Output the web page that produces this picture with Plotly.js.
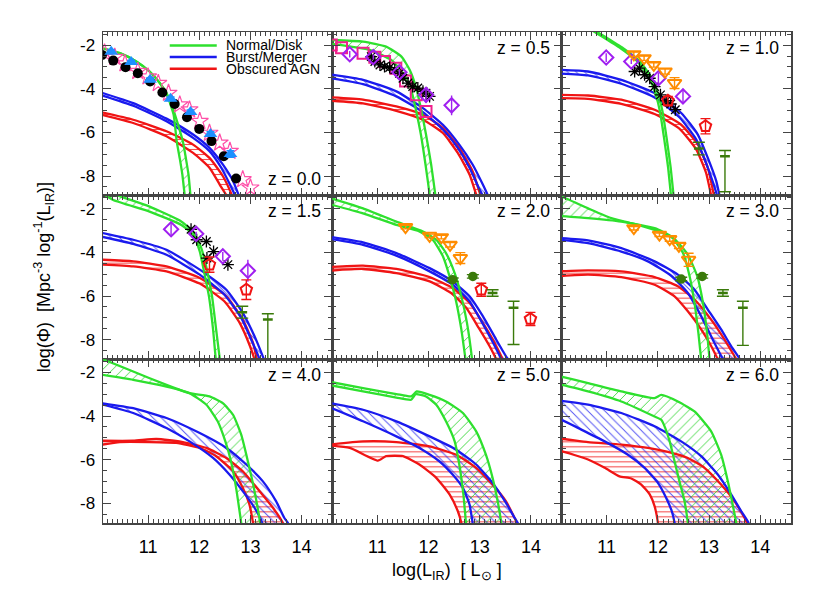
<!DOCTYPE html>
<html><head><meta charset="utf-8">
<script src="https://cdn.plot.ly/plotly-3.0.1.min.js"></script>
<style>html,body{margin:0;padding:0;background:#fff}#chart{width:822px;height:590px}</style>
</head><body><div id="chart"></div>
<script>
// ---------------- data ----------------
const redshifts = ['0.0','0.5','1.0','1.5','2.0','3.0','4.0','5.0','6.0'];
const xTicks = [11, 12, 13, 14];
const yTicks = [-2, -4, -6, -8];
const legendNames = ['Normal/Disk', 'Burst/Merger', 'Obscured AGN'];

// Normal/Disk band edges (per panel)
const diskHiX = [
 [10.05,10.45,10.77,11.03,11.23,11.36,11.48,11.58,11.68,11.74,11.79,11.84],
 [10.05,10.72,11.17,11.47,11.63,11.75,11.85,11.95,12.05,12.14,12.17],
 [10.40,10.80,11.32,11.65,11.88,12.01,12.09,12.17,12.25,12.31,12.33],
 [10.05,10.32,11.03,11.62,11.88,12.04,12.15,12.25,12.33,12.41,12.44],
 [10.05,10.72,11.37,11.89,12.15,12.34,12.51,12.64,12.75,12.85,12.87],
 [9.99,10.115,10.635,11.09,11.48,11.935,12.325,12.585,12.77,12.88,12.96,13.01,13.04],
 [10.05,10.71,11.36,11.81,12.20,12.46,12.66,12.82,12.95,13.08,13.19,13.22],
 [10.05,10.72,11.37,11.66,11.77,12.02,12.34,12.67,12.93,13.12,13.25,13.35,13.42,13.45],
 [9.99,10.115,10.635,11.285,11.935,12.065,12.39,12.715,13.04,13.235,13.365,13.46,13.53,13.56]];
const diskHiY = [
 [-2.11,-2.37,-2.75,-3.21,-3.74,-4.20,-4.85,-5.60,-6.41,-7.20,-7.93,-9.2],
 [-1.76,-1.84,-2.07,-2.53,-3.13,-3.90,-4.89,-6.10,-7.47,-9.0,-9.5],
 [-0.78,-1.38,-2.145,-2.75,-3.515,-4.28,-5.04,-6.255,-7.625,-9.0,-9.4],
 [-1.0,-1.32,-1.90,-2.54,-3.04,-3.80,-4.79,-6.01,-7.53,-9.05,-9.5],
 [-1.48,-1.98,-2.59,-3.04,-3.42,-4.03,-4.95,-6.01,-7.23,-8.90,-9.4],
 [-1.35,-1.44,-1.98,-2.43,-2.66,-2.97,-3.39,-4.11,-5.10,-6.31,-7.68,-8.90,-9.4],
 [-1.33,-1.96,-2.57,-2.95,-3.10,-3.41,-3.94,-4.85,-6.07,-7.44,-8.89,-9.4],
 [-2.42,-2.72,-2.99,-3.10,-2.87,-3.03,-3.33,-3.86,-4.70,-5.77,-6.83,-7.90,-8.89,-9.4],
 [-2.12,-2.19,-2.49,-2.87,-3.18,-3.03,-3.33,-3.79,-4.70,-5.77,-6.98,-8.05,-8.89,-9.4]];
const diskLoX = [
 [10.05,10.45,10.77,11.03,11.23,11.38,11.50,11.56,11.62,11.67,11.73],
 [10.05,10.85,11.27,11.50,11.66,11.76,11.85,11.94,12.03,12.06],
 [10.35,10.75,11.27,11.60,11.83,11.96,12.04,12.12,12.20,12.26,12.28],
 [10.05,10.32,11.03,11.65,11.88,12.01,12.10,12.19,12.27,12.33,12.36],
 [10.05,10.72,11.37,11.82,12.08,12.28,12.41,12.53,12.64,12.73,12.75],
 [9.99,10.635,11.285,11.935,12.26,12.49,12.62,12.715,12.79,12.845,12.87],
 [10.05,10.71,11.36,11.81,12.14,12.36,12.51,12.62,12.72,12.82,12.85],
 [10.05,10.72,11.37,11.66,11.75,11.95,12.15,12.34,12.51,12.60,12.68,12.73,12.75],
 [9.99,10.115,10.635,11.285,11.935,12.065,12.13,12.23,12.325,12.42,12.52,12.585,12.61]];
const diskLoY = [
 [-2.11,-2.37,-2.75,-3.21,-3.74,-4.35,-5.19,-6.41,-7.20,-7.93,-9.2],
 [-1.92,-2.22,-2.68,-3.29,-4.05,-5.04,-6.10,-7.47,-9.0,-9.5],
 [-0.78,-1.38,-2.145,-2.75,-3.515,-4.28,-5.04,-6.255,-7.625,-9.0,-9.4],
 [-1.2,-1.60,-2.13,-2.74,-3.19,-3.96,-4.95,-6.01,-7.53,-9.05,-9.5],
 [-1.78,-2.21,-2.74,-3.04,-3.42,-4.18,-5.10,-6.16,-7.53,-9.05,-9.4],
 [-2.32,-2.43,-2.59,-2.89,-3.27,-4.03,-5.10,-6.31,-7.68,-8.90,-9.4],
 [-2.09,-2.34,-2.65,-2.95,-3.48,-4.24,-5.16,-6.07,-7.29,-8.89,-9.4],
 [-2.57,-2.87,-3.15,-3.25,-3.0,-3.10,-3.48,-4.24,-5.16,-6.22,-7.59,-8.89,-9.4],
 [-2.55,-2.57,-2.87,-3.33,-4.02,-4.17,-4.47,-5.16,-6.07,-6.98,-7.90,-8.89,-9.4]];

// Burst/Merger band edges
const burstHiX = [
 [10.05,10.71,11.36,11.88,12.20,12.46,12.66,12.79,12.85],
 [10.05,10.72,11.37,11.89,12.28,12.60,12.86,13.06,13.18,13.25],
 [9.99,10.635,11.285,11.935,12.455,12.78,12.975,13.14,13.215,13.26],
 [10.05,10.71,11.36,12.01,12.53,12.85,13.08,13.24,13.29,13.33],
 [10.05,10.72,11.37,12.02,12.47,12.80,13.06,13.32,13.51,13.60,13.65],
 [9.99,10.635,11.285,11.935,12.39,12.715,12.975,13.235,13.43,13.625,13.70],
 [10.05,10.71,11.36,12.01,12.53,12.92,13.24,13.50,13.66,13.73,13.78],
 [10.05,10.72,11.37,12.02,12.54,12.93,13.25,13.51,13.68,13.74,13.79],
 [9.99,10.115,10.635,11.285,11.935,12.455,12.845,13.17,13.43,13.625,13.77,13.80]];
const burstHiY = [
 [-4.15,-4.66,-5.37,-6.10,-6.71,-7.47,-8.23,-9.0,-9.4],
 [-3.33,-3.59,-4.12,-4.89,-5.65,-6.56,-7.47,-8.39,-9.0,-9.4],
 [-3.13,-3.21,-3.59,-4.20,-5.11,-6.10,-7.17,-8.23,-9.0,-9.4],
 [-3.08,-3.42,-3.88,-4.79,-5.71,-6.77,-7.84,-8.75,-9.05,-9.4],
 [-3.28,-3.54,-4.03,-4.72,-5.33,-6.01,-6.92,-7.99,-8.75,-9.05,-9.4],
 [-3.33,-3.45,-3.80,-4.41,-5.02,-5.71,-6.62,-7.53,-8.29,-8.98,-9.4],
 [-3.39,-3.64,-4.09,-4.78,-5.46,-6.22,-6.98,-7.90,-8.66,-8.89,-9.4],
 [-3.39,-3.71,-4.24,-4.93,-5.54,-6.22,-7.06,-7.97,-8.66,-8.89,-9.4],
 [-3.28,-3.30,-3.48,-3.86,-4.47,-5.16,-5.84,-6.68,-7.59,-8.35,-8.89,-9.4]];
const burstLoX = [
 [10.05,10.71,11.36,11.88,12.20,12.43,12.60,12.72,12.78],
 [10.05,10.72,11.37,11.89,12.28,12.57,12.80,12.98,13.08,13.15],
 [9.99,10.635,11.285,11.935,12.42,12.75,12.94,13.09,13.17,13.21],
 [10.05,10.71,11.36,12.01,12.49,12.82,13.03,13.18,13.22,13.26],
 [10.05,10.72,11.37,12.02,12.47,12.80,13.03,13.26,13.42,13.46,13.50],
 [9.99,10.635,11.285,11.805,12.26,12.585,12.845,13.07,13.235,13.30,13.35],
 [10.05,10.71,11.36,11.81,12.27,12.59,12.85,13.08,13.23,13.27],
 [10.05,10.72,11.37,11.82,12.21,12.47,12.67,12.80,12.86,12.89],
 [9.99,10.115,10.505,10.96,11.415,11.74,12.0,12.16,12.27,12.325,12.35]];
const burstLoY = [
 [-4.27,-4.78,-5.49,-6.25,-6.86,-7.62,-8.39,-9.0,-9.4],
 [-3.50,-3.79,-4.35,-5.07,-5.87,-6.71,-7.62,-8.54,-9.0,-9.4],
 [-3.29,-3.39,-3.77,-4.40,-5.31,-6.33,-7.40,-8.39,-9.0,-9.4],
 [-3.26,-3.61,-4.11,-5.02,-5.93,-7.0,-8.07,-8.90,-9.21,-9.5],
 [-3.37,-3.65,-4.15,-4.87,-5.48,-6.24,-7.15,-8.14,-8.90,-9.13,-9.4],
 [-3.40,-3.58,-3.96,-4.41,-5.07,-5.86,-6.92,-7.99,-8.75,-9.05,-9.4],
 [-3.43,-3.86,-4.55,-5.16,-5.92,-6.68,-7.44,-8.20,-8.89,-9.4],
 [-3.58,-4.24,-4.93,-5.46,-6.07,-6.68,-7.29,-8.05,-8.89,-9.4],
 [-4.14,-4.17,-4.62,-5.16,-5.77,-6.37,-7.06,-7.74,-8.35,-8.89,-9.4]];

// Obscured AGN band edges
const agnHiX = [
 [10.05,10.71,11.36,11.88,12.20,12.46,12.66,12.72],
 [10.05,10.72,11.37,11.89,12.28,12.60,12.86,13.03,13.10],
 [9.99,10.635,11.285,11.935,12.455,12.78,12.975,13.105,13.14],
 [10.05,10.71,11.36,12.01,12.53,12.85,13.05,13.14,13.18],
 [10.05,10.72,11.37,12.02,12.47,12.80,13.06,13.29,13.45,13.51,13.55],
 [9.99,10.635,11.285,11.935,12.39,12.715,13.04,13.30,13.495,13.575,13.62],
 [10.05,10.71,11.16,11.68,12.14,12.53,12.85,13.18,13.44,13.63,13.68],
 [10.05,10.72,11.37,12.02,12.54,12.93,13.25,13.51,13.71,13.74,13.78],
 [9.99,10.115,10.635,11.285,11.805,12.195,12.585,12.91,13.235,13.495,13.655,13.74,13.77]];
const agnHiY = [
 [-5.06,-5.42,-5.95,-6.56,-7.17,-8.0,-9.0,-9.4],
 [-4.39,-4.50,-4.81,-5.19,-5.80,-6.71,-7.78,-9.0,-9.5],
 [-4.28,-4.31,-4.50,-4.96,-5.65,-6.56,-7.62,-9.0,-9.4],
 [-4.33,-4.41,-4.64,-5.17,-6.01,-7.08,-8.14,-9.05,-9.4],
 [-4.67,-4.61,-4.76,-5.13,-5.63,-6.31,-7.23,-8.14,-8.90,-9.13,-9.4],
 [-4.87,-4.82,-4.87,-5.13,-5.55,-6.16,-7.08,-7.99,-8.75,-9.05,-9.4],
 [-5.13,-5.13,-5.05,-5.19,-5.46,-5.92,-6.53,-7.44,-8.20,-8.89,-9.4],
 [-5.31,-5.16,-5.19,-5.39,-5.77,-6.37,-7.14,-7.90,-8.81,-8.96,-9.4],
 [-5.03,-5.04,-5.19,-5.31,-5.46,-5.64,-5.92,-6.37,-7.14,-7.90,-8.51,-8.89,-9.4]];
const agnLoX = [
 [10.05,10.71,11.36,11.88,12.20,12.40,12.56,12.62],
 [10.05,10.72,11.37,11.89,12.28,12.57,12.80,12.95,13.0],
 [9.99,10.635,11.285,11.935,12.42,12.75,12.94,13.05,13.09],
 [10.05,10.71,11.36,12.01,12.49,12.79,12.99,13.10,13.14],
 [10.05,10.72,11.37,12.02,12.44,12.735,12.98,13.19,13.35,13.40],
 [9.99,10.635,11.285,11.935,12.325,12.585,12.845,13.04,13.17,13.20,13.24],
 [10.05,10.45,11.03,11.55,12.01,12.33,12.66,12.85,12.98,13.05,13.08],
 [10.05,10.46,11.01,11.17,11.50,11.82,12.15,12.41,12.57,12.64,12.67],
 [9.99,10.115,10.635,10.96,11.25,11.48,11.675,11.84,11.935,12.0,12.02]];
const agnLoY = [
 [-5.17,-5.57,-6.18,-6.94,-7.62,-8.39,-9.0,-9.4],
 [-4.54,-4.67,-5.01,-5.42,-6.03,-6.94,-7.93,-9.0,-9.4],
 [-4.43,-4.46,-4.69,-5.16,-5.83,-6.79,-7.85,-9.0,-9.4],
 [-4.55,-4.64,-4.87,-5.43,-6.24,-7.23,-8.29,-9.05,-9.4],
 [-4.84,-4.76,-4.95,-5.33,-5.86,-6.54,-7.46,-8.29,-9.05,-9.4],
 [-5.10,-5.02,-5.13,-5.48,-6.01,-6.70,-7.53,-8.29,-8.90,-9.05,-9.4],
 [-5.33,-5.19,-5.19,-5.23,-5.46,-5.84,-6.53,-7.29,-8.05,-8.89,-9.4],
 [-5.34,-5.46,-6.04,-5.84,-5.84,-6.22,-6.83,-7.59,-8.35,-8.89,-9.4],
 [-5.58,-5.61,-5.99,-6.37,-6.76,-6.86,-7.14,-7.59,-8.13,-8.89,-9.4]];

// Observations, z = 0.0 panel
const circleX = [10.10,10.32,10.56,10.80,11.04,11.28,11.52,11.76,12.00,12.24,12.48,12.72];
const circleY = [-2.45,-2.71,-3.01,-3.29,-3.67,-4.17,-4.70,-5.31,-5.84,-6.40,-7.09,-8.11];
const triUpX = [10.28,10.67,11.04,11.44,11.83,12.22,12.61];
const triUpY = [-2.30,-2.78,-3.59,-4.46,-5.07,-6.07,-6.99];
const triUpErr = [0.08,0.08,0.08,0.08,0.1,0.1,0.15];
const starX = [10.15,10.35,10.55,10.80,11.00,11.20,11.40,11.62,11.81,12.01,12.20,12.40,12.60,12.85,13.00];
const starY = [-2.35,-2.55,-2.85,-3.20,-3.45,-3.75,-4.20,-4.73,-4.96,-5.49,-6.03,-6.48,-6.86,-8.16,-8.54];
// z = 0.5 panel
const squareX = [10.10,10.30,10.72,10.95,11.14,11.36,11.55,11.76,11.95];
const squareY = [-2.00,-2.12,-2.37,-2.56,-2.75,-3.06,-3.64,-4.28,-5.04];
// Observations by panel
const diamondX = [[],[10.46,10.92,11.43,11.95,12.45],[10.99,11.48,12.01,12.49],[11.45,11.94,12.46,12.95],[],[],[],[],[]];
const diamondY = [[],[-2.42,-2.55,-3.25,-4.28,-4.76],[-2.57,-2.75,-3.52,-4.35],[-2.94,-3.15,-4.18,-4.84],[],[],[],[],[]];
const diamondErr = [[],[0.15,0.12,0.15,0.35,0.45],[0.2,0.12,0.25,0.3],[0.3,0.1,0.2,0.5],[],[],[],[],[]];
const asteriskX = [[],[10.88,10.95,11.05,11.14,11.24,11.34,11.43,11.50,11.60,11.69,11.79,11.89,11.95,12.02],
  [11.545,11.64,11.74,11.84,11.935,12.05,12.16,12.25,12.34],[11.84,11.95,12.14,12.28,12.15,12.56],[],[],[],[],[]];
const asteriskY = [[],[-2.53,-2.75,-2.91,-2.98,-3.03,-3.13,-3.29,-3.52,-3.74,-3.90,-3.97,-4.12,-4.20,-4.35],
  [-3.21,-3.06,-3.36,-3.52,-3.90,-4.28,-4.55,-4.70,-4.96],[-2.94,-3.42,-3.50,-3.96,-4.26,-4.56],[],[],[],[],[]];
const asteriskErr = [[],[0.12,0.12,0.12,0.12,0.12,0.12,0.12,0.12,0.12,0.12,0.12,0.15,0.2,0.2],
  [0.15,0.15,0.15,0.15,0.15,0.15,0.15,0.15,0.15],[0,0,0,0,0,0],[],[],[],[],[]];
const triDownX = [[],[],[11.53,11.73,11.92,12.14,12.325],[],[11.55,12.02,12.25,12.42,12.62],[11.53,12.03,12.23,12.41,12.60],[],[],[]];
const triDownY = [[],[],[-2.42,-2.60,-2.91,-3.21,-3.74],[],[-2.84,-3.24,-3.30,-3.65,-4.26],[-2.89,-3.19,-3.39,-3.70,-4.34],[],[],[]];
const triDownErr = [[],[],[0.1,0.1,0.1,0.12,0.25],[],[0.08,0.08,0.08,0.1,0.25],[0.08,0.08,0.1,0.12,0.3],[],[],[]];
const pentX = [[],[],[12.195,12.93],[12.20,12.92],[13.03,13.99],[],[],[],[]];
const pentY = [[],[],[-4.55,-5.72],[-4.56,-5.71],[-5.71,-7.05],[],[],[],[]];
const pentErr = [[],[],[0.2,0.35],[0.35,0.45],[0.3,0.3],[],[],[],[]];
const dgX = [[],[],[12.80,13.31],[12.84,13.34],[12.47,12.865,13.25,13.66],[12.455,12.865,13.27,13.66],[],[],[]];
const dgY = [[],[],[-6.74,-7.09],[-6.74,-7.08],[-5.25,-5.10,-5.86,-6.54],[-5.22,-5.10,-5.86,-6.54],[],[],[]];
const dgErrUp = [[],[],[0.29,0.26],[0.27,0.27],[0.08,0.08,0.15,0.3],[0.08,0.08,0.15,0.3],[],[],[]];
const dgErrDn = [[],[],[0.29,1.63],[0.27,2.0],[0.08,0.08,0.15,1.68],[0.08,0.08,0.15,1.72],[],[],[]];

// ---------------- drawing ----------------
const FONT = '"Liberation Sans", Arial, Helvetica, sans-serif';
const C_DISK = '#2EE02E', C_BURST = '#1A1AEE', C_AGN = '#F01414';
const AXC = '#444';
const traces = [];
const sfx = i => (i === 0 ? '' : String(i + 1));
const onAx = (i, t) => Object.assign(t, {xaxis: 'x' + sfx(i), yaxis: 'y' + sfx(i), hoverinfo: 'skip', showlegend: false});

function bandFill(i, hx, hy, lx, ly, pcol, shape, size, sol) {
  traces.push(onAx(i, {type: 'scatter', mode: 'lines',
    x: hx.concat(lx.slice().reverse()), y: hy.concat(ly.slice().reverse()),
    fill: 'toself', fillcolor: 'rgba(0,0,0,0)',
    fillpattern: {shape: shape, fgcolor: pcol, bgcolor: 'rgba(0,0,0,0)', size: size, solidity: sol, fillmode: 'replace'},
    line: {width: 0, color: 'rgba(0,0,0,0)', shape: 'spline', smoothing: 0.5}}));
}
function edge(i, x, y, col) {
  traces.push(onAx(i, {type: 'scatter', mode: 'lines', x: x, y: y,
    line: {color: col, width: 2.3, shape: 'spline', smoothing: 0.5}}));
}
for (let i = 0; i < 9; i++) {
  bandFill(i, agnHiX[i], agnHiY[i], agnLoX[i], agnLoY[i], 'rgba(240,20,20,0.75)', '-', 5, 0.22);
  bandFill(i, burstHiX[i], burstHiY[i], burstLoX[i], burstLoY[i], 'rgba(26,26,238,0.75)', '\\', 6, 0.16);
  bandFill(i, diskHiX[i], diskHiY[i], diskLoX[i], diskLoY[i], 'rgba(40,210,40,0.85)', '/', 7, 0.14);
}
for (let i = 0; i < 9; i++) {
  edge(i, agnHiX[i], agnHiY[i], C_AGN); edge(i, agnLoX[i], agnLoY[i], C_AGN);
  edge(i, burstHiX[i], burstHiY[i], C_BURST); edge(i, burstLoX[i], burstLoY[i], C_BURST);
  edge(i, diskHiX[i], diskHiY[i], C_DISK); edge(i, diskLoX[i], diskLoY[i], C_DISK);
}
function pts(i, x, y, sym, size, col, lw, eUp, eDn, ecol, ew) {
  if (!x.length) return;
  const t = {type: 'scatter', mode: 'markers', x: x, y: y, cliponaxis: true,
    marker: {symbol: sym, size: size, color: col, line: {color: col, width: lw}}};
  if (eUp) t.error_y = {type: 'data', symmetric: false, array: eUp, arrayminus: eDn || eUp, color: ecol || col, thickness: 1.4, width: ew};
  traces.push(onAx(i, t));
}
// z=0
pts(0, starX, starY, 'star-open', 13, '#FF4FA8', 1.2);
pts(0, circleX, circleY, 'circle', 10, '#000', 0);
pts(0, triUpX, triUpY, 'triangle-up', 12, '#1E8FFF', 0, triUpErr, null, '#1E8FFF', 4);
// z=0.5
pts(1, squareX, squareY, 'square-open', 11, '#F0208C', 2);
for (let i = 0; i < 9; i++) {
  pts(i, asteriskX[i], asteriskY[i], 'asterisk-open', 10, '#000', 1.3, asteriskErr[i], null, '#555', 0);
  pts(i, diamondX[i], diamondY[i], 'diamond-open', 11, '#A020F0', 2, diamondErr[i], null, '#A020F0', 0);
  pts(i, triDownX[i], triDownY[i], 'triangle-down-open', 12, '#FF8C00', 2, triDownErr[i], null, '#FF8C00', 5);
  pts(i, pentX[i], pentY[i], 'pentagon-open', 12, '#F01414', 2, pentErr[i], null, '#F01414', 5);
  if (dgX[i].length) {
    const syms = dgErrUp[i].map(e => (e < 0.1 ? 'circle' : 'line-ew-open'));
    pts(i, dgX[i], dgY[i], syms, 7, '#3A7A0A', 2.5, dgErrUp[i], dgErrDn[i], '#3A7A0A', 6);
  }
}

const layout = {
  width: 822, height: 590, paper_bgcolor: '#fff', plot_bgcolor: '#fff',
  margin: {l: 103, r: 31, t: 32, b: 67}, showlegend: false,
  font: {family: FONT, color: '#000'}, annotations: [], shapes: []
};
for (let i = 0; i < 9; i++) {
  const r = Math.floor(i / 3), c = i % 3, s = sfx(i);
  const common = {ticks: 'inside', tickcolor: AXC, tickwidth: 1, showline: true, linecolor: AXC, linewidth: 1.5,
    mirror: 'allticks', showgrid: false, zeroline: false, tickmode: 'array', fixedrange: true};
  layout['xaxis' + s] = Object.assign({}, common, {domain: [c / 3, (c + 1) / 3], range: [10.12, 14.6], anchor: 'y' + s,
    tickvals: xTicks, ticktext: xTicks.map(String), ticklen: 8, showticklabels: r === 2,
    tickfont: {size: 18, family: FONT}, ticklabelstandoff: 7,
    minor: {ticks: 'inside', tickmode: 'linear', tick0: 0, dtick: 0.1, ticklen: 4, tickcolor: AXC, tickwidth: 1, showgrid: false}});
  layout['yaxis' + s] = Object.assign({}, common, {domain: [(2 - r) / 3, (3 - r) / 3], range: [-8.9, -1.4], anchor: 'x' + s,
    tickvals: yTicks, ticktext: yTicks.map(v => '-' + Math.abs(v)), ticklen: 8, showticklabels: c === 0,
    tickfont: {size: 17, family: FONT}, ticklabelstandoff: 3,
    minor: {ticks: 'inside', tickmode: 'linear', tick0: 0, dtick: 0.5, ticklen: 4, tickcolor: AXC, tickwidth: 1, showgrid: false}});
  layout.annotations.push({xref: 'x' + s + ' domain', yref: 'y' + s + ' domain', x: 0.958, y: i === 0 ? 0.10 : 0.904,
    xanchor: 'right', yanchor: 'middle', showarrow: false, text: 'z = ' + redshifts[i], font: {size: 17.5, family: FONT}});
}
// legend (panel z = 0.0)
const legCols = [C_DISK, C_BURST, C_AGN];
const legY = [0.918, 0.847, 0.776];
legendNames.forEach((n, k) => {
  layout.shapes.push({type: 'line', xref: 'x domain', yref: 'y domain', x0: 0.291, x1: 0.496, y0: legY[k], y1: legY[k],
    line: {color: legCols[k], width: 2.5}});
  layout.annotations.push({xref: 'x domain', yref: 'y domain', x: 0.527, y: legY[k], xanchor: 'left', yanchor: 'middle',
    showarrow: false, text: n, font: {size: 14, family: FONT}});
});
// axis titles
layout.annotations.push({xref: 'paper', yref: 'paper', x: -0.086, y: 0.5, xanchor: 'center', yanchor: 'middle',
  textangle: -90, showarrow: false, font: {size: 18, family: FONT},
  text: 'log(\u03A6)  [Mpc<sup>-3</sup> log<sup>-1</sup>(L<sub>IR</sub>)]'});
layout.annotations.push({xref: 'paper', yref: 'paper', x: 0.5, y: -0.098, xanchor: 'center', yanchor: 'middle',
  showarrow: false, font: {size: 18, family: FONT},
  text: 'log(L<sub>IR</sub>)  [ L<sub>\u2299</sub> ]'});

Plotly.newPlot('chart', traces, layout, {displayModeBar: false, staticPlot: true});
</script></body></html>
